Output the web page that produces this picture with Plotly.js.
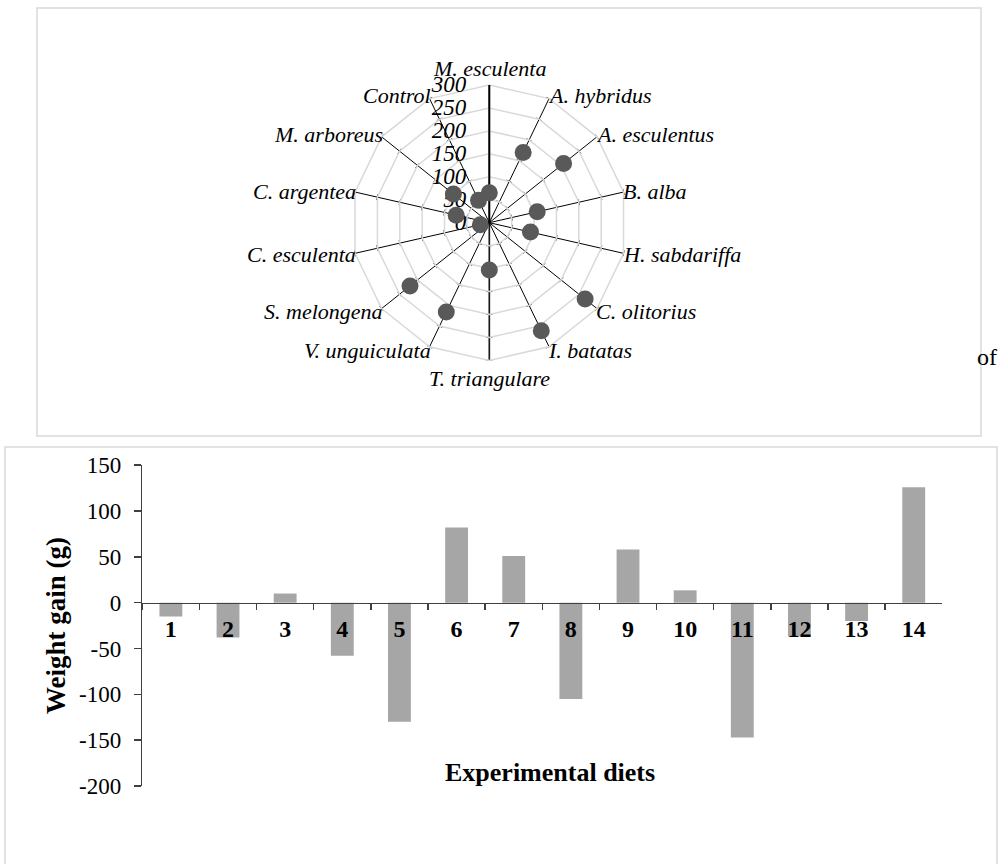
<!DOCTYPE html>
<html><head><meta charset="utf-8">
<script src="https://cdn.plot.ly/plotly-3.0.1.min.js"></script>
<style>html,body{margin:0;padding:0;background:#fff}</style>
</head><body>
<div id="chart" style="width:1003px;height:864px"></div>
<script>
// ---- data ----
const species = ['M. esculenta','A. hybridus','A. esculentus','B. alba','H. sabdariffa','C. olitorius','I. batatas','T. triangulare','V. unguiculata','S. melongena','C. esculenta','C. argentea','M. arboreus','Control'];
const radarValues = [65,170,207,107,92,267,261,103,216,221,20,74,100,54];
const radialTicks = [0,50,100,150,200,250,300];
const diets = ['1','2','3','4','5','6','7','8','9','10','11','12','13','14'];
const weightGain = [-15,-38,10,-58,-130,82,51,-105,58,13.5,-147,-37,-20,126];
const yTicks = [-200,-150,-100,-50,0,50,100,150];
const yTickText = ['-200','-150','-100','-50','0','50','100','150'];

// ---- geometry helpers ----
const W = 1003, H = 864;
const px = x => x / W;
const py = y => 1 - y / H;
const serif = 'Liberation Serif, Times New Roman, serif';

// polar placement
const cx = 489.3, cy = 222.7, R = 137.7;
const polarDomX = [px(cx - R), px(cx + R)];
const polarDomY = [py(cy + R), py(cy - R)];
const rMax = radialTicks[radialTicks.length - 1];
const nCat = species.length;

// small tick marks across each spoke (derived from radial ticks & category angles),
// drawn on a hidden cartesian overlay that matches the polar frame
const tickHalf = 6.5; // radial data units
const tx = [], ty = [];
species.forEach((s, i) => {
  if (i === 0) return;
  const th = i * 2 * Math.PI / nCat;
  const ux = Math.sin(th), uy = Math.cos(th);
  const qx = Math.cos(th), qy = -Math.sin(th);
  radialTicks.forEach(r => {
    if (r === 0) return;
    tx.push(r * ux + tickHalf * qx, r * ux - tickHalf * qx, null);
    ty.push(r * uy + tickHalf * qy, r * uy - tickHalf * qy, null);
  });
});

// category labels placed at the spoke ends (Excel-like placement)
const catLabels = species.map((s, i) => {
  const th = i * 2 * Math.PI / nCat;
  const vx = cx + R * Math.sin(th), vy = cy - R * Math.cos(th);
  const a = {xref: 'paper', yref: 'paper', text: s, showarrow: false,
    font: {family: serif, size: 22, style: 'italic', color: '#000'}};
  const sn = Math.sin(th), cs = Math.cos(th);
  if (Math.abs(sn) < 1e-6) {
    a.x = px(vx); a.xanchor = 'center';
    if (cs > 0) { a.y = py(vy - 2); a.yanchor = 'bottom'; }
    else { a.y = py(vy + 4); a.yanchor = 'top'; }
  } else {
    a.x = px(vx + (sn > 0 ? -3 : 3)); a.xanchor = sn > 0 ? 'left' : 'right';
    a.y = py(vy - 4 * cs); a.yanchor = 'middle';
  }
  return a;
});

// ---- bar chart domains ----
const yRange = [-200, 150];
const yDom = [py(786), py(465.2)];
const zeroPos = yDom[0] + (0 - yRange[0]) / (yRange[1] - yRange[0]) * (yDom[1] - yDom[0]);

const traces = [
  {
    type: 'scatter', x: tx, y: ty, mode: 'lines', xaxis: 'x2', yaxis: 'y2',
    line: {color: '#000', width: 1}, hoverinfo: 'skip', showlegend: false, connectgaps: false
  },
  {
    type: 'scatter', x: [0, 0], y: [0, -rMax], mode: 'lines', xaxis: 'x2', yaxis: 'y2',
    line: {color: '#808080', width: 2}, hoverinfo: 'skip', showlegend: false
  },
  {
    type: 'scatterpolar', r: radarValues, theta: species, mode: 'markers',
    marker: {color: '#595959', size: 17}, showlegend: false, name: 'radar'
  },
  {
    type: 'bar', x: diets, y: weightGain, marker: {color: '#a6a6a6'},
    xaxis: 'x', yaxis: 'y', showlegend: false
  }
];

const layout = {
  width: W, height: H, autosize: false,
  margin: {l: 0, r: 0, t: 0, b: 0},
  paper_bgcolor: '#fff', plot_bgcolor: 'rgba(0,0,0,0)',
  showlegend: false,
  font: {family: serif, color: '#000'},
  bargap: 0.6,
  polar: {
    domain: {x: polarDomX, y: polarDomY},
    gridshape: 'linear',
    bgcolor: 'rgba(0,0,0,0)',
    angularaxis: {
      type: 'category', categoryorder: 'array', categoryarray: species,
      direction: 'clockwise', rotation: 90,
      showgrid: true, gridcolor: '#000', gridwidth: 1,
      showline: true, linecolor: '#d9d9d9', linewidth: 1.5,
      ticks: '', showticklabels: false, layer: 'below traces'
    },
    radialaxis: {
      range: [0, rMax], angle: 90, side: 'counterclockwise', tickangle: 90,
      tickmode: 'array', tickvals: radialTicks,
      showline: true, linecolor: '#000', linewidth: 2,
      gridcolor: '#d9d9d9', gridwidth: 1.5,
      ticks: 'outside', ticklen: 14, tickcolor: 'rgba(0,0,0,0)', layer: 'below traces',
      tickfont: {family: serif, size: 23, style: 'italic', color: '#000'}
    }
  },
  xaxis2: {domain: polarDomX, range: [-rMax, rMax], anchor: 'y2', visible: false, fixedrange: true},
  yaxis2: {domain: polarDomY, range: [-rMax, rMax], anchor: 'x2', visible: false, fixedrange: true},
  xaxis: {
    domain: [px(142.3), px(942.3)], type: 'category', range: [-0.5, 13.5],
    anchor: 'free', position: zeroPos,
    showline: true, linecolor: '#404040', linewidth: 1.5,
    ticks: 'outside', tickson: 'boundaries', ticklen: 6, tickcolor: '#404040', tickwidth: 1.5,
    ticklabelstandoff: 4,
    showgrid: false, zeroline: false, fixedrange: true,
    tickfont: {family: serif, size: 24, weight: 'bold', color: '#000'}
  },
  yaxis: {
    domain: yDom, range: yRange, tickmode: 'array', tickvals: yTicks, ticktext: yTickText,
    showline: true, linecolor: '#404040', linewidth: 1.5,
    ticks: 'outside', ticklen: 7, tickcolor: '#404040', tickwidth: 1.5,
    ticklabelstandoff: 8,
    showgrid: false, zeroline: false, fixedrange: true,
    tickfont: {family: serif, size: 23, color: '#000'},
    title: {text: 'Weight gain (g)', standoff: 5, font: {family: serif, size: 27, weight: 'bold', color: '#000'}}
  },
  shapes: [
    {type: 'rect', xref: 'paper', yref: 'paper', x0: px(37), x1: px(981), y0: py(436), y1: py(8),
     line: {color: '#d9d9d9', width: 1.5}, layer: 'below'},
    {type: 'rect', xref: 'paper', yref: 'paper', x0: px(5), x1: px(997), y0: py(880), y1: py(447),
     line: {color: '#d9d9d9', width: 1.5}, layer: 'below'}
  ],
  annotations: catLabels.concat([
    {xref: 'paper', yref: 'paper', x: px(549.5), y: py(772), xanchor: 'center', yanchor: 'middle',
     text: 'Experimental diets', showarrow: false, font: {family: serif, size: 26, weight: 'bold', color: '#000'}},
    {xref: 'paper', yref: 'paper', x: px(975), y: py(357), xanchor: 'left', yanchor: 'middle',
     text: 'of', showarrow: false, font: {family: serif, size: 24, color: '#000'}}
  ])
};

Plotly.newPlot('chart', traces, layout, {staticPlot: true, displayModeBar: false});
</script>
</body></html>
